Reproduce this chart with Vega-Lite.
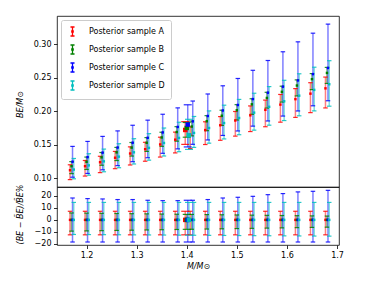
{
 "$schema": "https://vega.github.io/schema/vega-lite/v6.json",
 "padding": {"left": 15, "top": 15, "right": 0, "bottom": 0},
 "spacing": 0,
 "bounds": "flush",
 "config": {
  "font": "DejaVu Sans",
  "view": {"stroke": "#000000", "strokeWidth": 0.8},
  "axis": {"labelFont": "DejaVu Sans", "labelFontSize": 8, "labelColor": "#000000", "labelOverlap": false, "tickColor": "#000000", "tickWidth": 0.8, "tickSize": 3.5, "labelPadding": 2.5, "domain": false, "grid": false, "titleFont": "DejaVu Sans", "titleFontSize": 8, "titleFontWeight": "normal", "titleColor": "#000000"}
 },
 "datasets": {
  "d": [
   {"s":"A","M":1.167,"be":0.1120,"lo":0.0980,"hi":0.1201,"plo":-12.5,"phi":7.2,"big":0},
   {"s":"A","M":1.197,"be":0.1180,"lo":0.1033,"hi":0.1265,"plo":-12.5,"phi":7.2,"big":0},
   {"s":"A","M":1.227,"be":0.1239,"lo":0.1084,"hi":0.1328,"plo":-12.5,"phi":7.2,"big":0},
   {"s":"A","M":1.257,"be":0.1306,"lo":0.1143,"hi":0.1400,"plo":-12.5,"phi":7.2,"big":0},
   {"s":"A","M":1.287,"be":0.1369,"lo":0.1198,"hi":0.1468,"plo":-12.5,"phi":7.2,"big":0},
   {"s":"A","M":1.317,"be":0.1433,"lo":0.1254,"hi":0.1536,"plo":-12.5,"phi":7.2,"big":0},
   {"s":"A","M":1.347,"be":0.1504,"lo":0.1316,"hi":0.1612,"plo":-12.5,"phi":7.2,"big":0},
   {"s":"A","M":1.377,"be":0.1575,"lo":0.1378,"hi":0.1688,"plo":-12.5,"phi":7.2,"big":0},
   {"s":"A","M":1.407,"be":0.1648,"lo":0.1442,"hi":0.1767,"plo":-12.5,"phi":7.2,"big":0},
   {"s":"A","M":1.437,"be":0.1718,"lo":0.1503,"hi":0.1842,"plo":-12.5,"phi":7.2,"big":0},
   {"s":"A","M":1.467,"be":0.1790,"lo":0.1566,"hi":0.1919,"plo":-12.5,"phi":7.2,"big":0},
   {"s":"A","M":1.497,"be":0.1861,"lo":0.1628,"hi":0.1995,"plo":-12.5,"phi":7.2,"big":0},
   {"s":"A","M":1.527,"be":0.1938,"lo":0.1696,"hi":0.2078,"plo":-12.5,"phi":7.2,"big":0},
   {"s":"A","M":1.557,"be":0.2020,"lo":0.1768,"hi":0.2165,"plo":-12.5,"phi":7.2,"big":0},
   {"s":"A","M":1.587,"be":0.2098,"lo":0.1836,"hi":0.2249,"plo":-12.5,"phi":7.2,"big":0},
   {"s":"A","M":1.617,"be":0.2179,"lo":0.1907,"hi":0.2336,"plo":-12.5,"phi":7.2,"big":0},
   {"s":"A","M":1.647,"be":0.2261,"lo":0.1978,"hi":0.2424,"plo":-12.5,"phi":7.2,"big":0},
   {"s":"A","M":1.677,"be":0.2340,"lo":0.2048,"hi":0.2508,"plo":-12.5,"phi":7.2,"big":0},
   {"s":"B","M":1.170,"be":0.1180,"lo":0.1069,"hi":0.1248,"plo":-9.4,"phi":5.8,"big":0},
   {"s":"B","M":1.200,"be":0.1246,"lo":0.1131,"hi":0.1316,"plo":-9.21,"phi":5.65,"big":0},
   {"s":"B","M":1.230,"be":0.1312,"lo":0.1194,"hi":0.1384,"plo":-9.01,"phi":5.49,"big":0},
   {"s":"B","M":1.260,"be":0.1386,"lo":0.1264,"hi":0.1460,"plo":-8.82,"phi":5.34,"big":0},
   {"s":"B","M":1.290,"be":0.1457,"lo":0.1331,"hi":0.1533,"plo":-8.62,"phi":5.19,"big":0},
   {"s":"B","M":1.320,"be":0.1529,"lo":0.1400,"hi":0.1606,"plo":-8.43,"phi":5.04,"big":0},
   {"s":"B","M":1.350,"be":0.1608,"lo":0.1476,"hi":0.1686,"plo":-8.24,"phi":4.88,"big":0},
   {"s":"B","M":1.380,"be":0.1689,"lo":0.1553,"hi":0.1769,"plo":-8.04,"phi":4.73,"big":0},
   {"s":"B","M":1.410,"be":0.1771,"lo":0.1632,"hi":0.1852,"plo":-7.85,"phi":4.58,"big":0},
   {"s":"B","M":1.440,"be":0.1851,"lo":0.1709,"hi":0.1933,"plo":-7.65,"phi":4.42,"big":0},
   {"s":"B","M":1.470,"be":0.1932,"lo":0.1788,"hi":0.2014,"plo":-7.46,"phi":4.27,"big":0},
   {"s":"B","M":1.500,"be":0.2014,"lo":0.1868,"hi":0.2097,"plo":-7.26,"phi":4.12,"big":0},
   {"s":"B","M":1.530,"be":0.2102,"lo":0.1953,"hi":0.2185,"plo":-7.07,"phi":3.96,"big":0},
   {"s":"B","M":1.560,"be":0.2197,"lo":0.2046,"hi":0.2281,"plo":-6.88,"phi":3.81,"big":0},
   {"s":"B","M":1.590,"be":0.2288,"lo":0.2135,"hi":0.2372,"plo":-6.68,"phi":3.66,"big":0},
   {"s":"B","M":1.620,"be":0.2382,"lo":0.2227,"hi":0.2466,"plo":-6.49,"phi":3.51,"big":0},
   {"s":"B","M":1.650,"be":0.2477,"lo":0.2321,"hi":0.2560,"plo":-6.29,"phi":3.35,"big":0},
   {"s":"B","M":1.680,"be":0.2570,"lo":0.2413,"hi":0.2652,"plo":-6.1,"phi":3.2,"big":0},
   {"s":"C","M":1.172,"be":0.1247,"lo":0.1016,"hi":0.1475,"plo":-18.5,"phi":18.3,"big":0},
   {"s":"C","M":1.202,"be":0.1315,"lo":0.1072,"hi":0.1549,"plo":-18.5,"phi":17.8,"big":0},
   {"s":"C","M":1.232,"be":0.1382,"lo":0.1126,"hi":0.1624,"plo":-18.5,"phi":17.5,"big":0},
   {"s":"C","M":1.262,"be":0.1458,"lo":0.1188,"hi":0.1706,"plo":-18.5,"phi":17.0,"big":0},
   {"s":"C","M":1.292,"be":0.1530,"lo":0.1247,"hi":0.1790,"plo":-18.5,"phi":17.0,"big":0},
   {"s":"C","M":1.322,"be":0.1603,"lo":0.1306,"hi":0.1866,"plo":-18.5,"phi":16.4,"big":0},
   {"s":"C","M":1.352,"be":0.1683,"lo":0.1372,"hi":0.1954,"plo":-18.5,"phi":16.1,"big":0},
   {"s":"C","M":1.382,"be":0.1765,"lo":0.1438,"hi":0.2049,"plo":-18.5,"phi":16.1,"big":0},
   {"s":"C","M":1.412,"be":0.1848,"lo":0.1506,"hi":0.2151,"plo":-18.5,"phi":16.4,"big":0},
   {"s":"C","M":1.442,"be":0.1928,"lo":0.1571,"hi":0.2256,"plo":-18.5,"phi":17.0,"big":0},
   {"s":"C","M":1.472,"be":0.2010,"lo":0.1638,"hi":0.2378,"plo":-18.5,"phi":18.3,"big":0},
   {"s":"C","M":1.502,"be":0.2092,"lo":0.1705,"hi":0.2487,"plo":-18.5,"phi":18.9,"big":0},
   {"s":"C","M":1.532,"be":0.2180,"lo":0.1777,"hi":0.2609,"plo":-18.5,"phi":19.7,"big":0},
   {"s":"C","M":1.562,"be":0.2275,"lo":0.1854,"hi":0.2755,"plo":-18.5,"phi":21.1,"big":0},
   {"s":"C","M":1.592,"be":0.2365,"lo":0.1927,"hi":0.2885,"plo":-18.5,"phi":22.0,"big":0},
   {"s":"C","M":1.622,"be":0.2458,"lo":0.2003,"hi":0.3033,"plo":-18.5,"phi":23.4,"big":0},
   {"s":"C","M":1.652,"be":0.2552,"lo":0.2080,"hi":0.3162,"plo":-18.5,"phi":23.9,"big":0},
   {"s":"C","M":1.682,"be":0.2644,"lo":0.2155,"hi":0.3297,"plo":-18.5,"phi":24.7,"big":0},
   {"s":"D","M":1.1745,"be":0.1130,"lo":0.0992,"hi":0.1295,"plo":-12.2,"phi":14.6,"big":0},
   {"s":"D","M":1.2045,"be":0.1192,"lo":0.1046,"hi":0.1366,"plo":-12.28,"phi":14.6,"big":0},
   {"s":"D","M":1.2345,"be":0.1252,"lo":0.1097,"hi":0.1435,"plo":-12.36,"phi":14.6,"big":0},
   {"s":"D","M":1.2645,"be":0.1322,"lo":0.1157,"hi":0.1515,"plo":-12.45,"phi":14.6,"big":0},
   {"s":"D","M":1.2945,"be":0.1387,"lo":0.1213,"hi":0.1590,"plo":-12.53,"phi":14.6,"big":0},
   {"s":"D","M":1.3245,"be":0.1453,"lo":0.1270,"hi":0.1665,"plo":-12.61,"phi":14.6,"big":0},
   {"s":"D","M":1.3545,"be":0.1526,"lo":0.1332,"hi":0.1749,"plo":-12.69,"phi":14.6,"big":0},
   {"s":"D","M":1.3845,"be":0.1601,"lo":0.1396,"hi":0.1835,"plo":-12.78,"phi":14.6,"big":0},
   {"s":"D","M":1.4145,"be":0.1676,"lo":0.1460,"hi":0.1921,"plo":-12.86,"phi":14.6,"big":0},
   {"s":"D","M":1.4445,"be":0.1749,"lo":0.1523,"hi":0.2004,"plo":-12.94,"phi":14.6,"big":0},
   {"s":"D","M":1.4745,"be":0.1823,"lo":0.1586,"hi":0.2089,"plo":-13.02,"phi":14.6,"big":0},
   {"s":"D","M":1.5045,"be":0.1898,"lo":0.1649,"hi":0.2175,"plo":-13.11,"phi":14.6,"big":0},
   {"s":"D","M":1.5345,"be":0.1978,"lo":0.1717,"hi":0.2267,"plo":-13.19,"phi":14.6,"big":0},
   {"s":"D","M":1.5645,"be":0.2065,"lo":0.1791,"hi":0.2366,"plo":-13.27,"phi":14.6,"big":0},
   {"s":"D","M":1.5945,"be":0.2147,"lo":0.1860,"hi":0.2460,"plo":-13.35,"phi":14.6,"big":0},
   {"s":"D","M":1.6245,"be":0.2231,"lo":0.1931,"hi":0.2557,"plo":-13.44,"phi":14.6,"big":0},
   {"s":"D","M":1.6545,"be":0.2317,"lo":0.2004,"hi":0.2655,"plo":-13.52,"phi":14.6,"big":0},
   {"s":"D","M":1.6845,"be":0.2401,"lo":0.2074,"hi":0.2752,"plo":-13.6,"phi":14.6,"big":0},
   {"s":"A","M":1.397,"be":0.1720,"lo":0.1505,"hi":0.1844,"plo":-12.5,"phi":7.2,"big":1},
   {"s":"B","M":1.400,"be":0.1750,"lo":0.1612,"hi":0.1831,"plo":-7.9,"phi":4.6,"big":1},
   {"s":"C","M":1.402,"be":0.1800,"lo":0.1467,"hi":0.2095,"plo":-18.5,"phi":16.4,"big":1},
   {"s":"D","M":1.4045,"be":0.1640,"lo":0.1430,"hi":0.1879,"plo":-12.8,"phi":14.6,"big":1}
  ]
 },
 "resolve": {"legend": {"color": "independent"}},
 "vconcat": [
  {
   "width": 282,
   "height": 171,
   "data": {"name": "d"},
   "encoding": {
    "x": {"field": "M", "type": "quantitative", "scale": {"domain": [1.141, 1.704], "nice": false, "zero": false}, "axis": null},
    "color": {"field": "s", "type": "nominal", "scale": {"domain": ["A", "B", "C", "D"], "range": ["#ff0000", "#008000", "#0000ff", "#00bfbf"]},
     "legend": {"title": null, "orient": "top-left", "offset": 4, "labelExpr": "'Posterior sample ' + datum.label", "symbolType": "M0,-1L0,1M-0.45,-1L0.45,-1M-0.45,1L0.45,1M-0.15,-0.15L0.15,-0.15L0.15,0.15L-0.15,0.15Z", "symbolSize": 81, "symbolStrokeWidth": 1.3, "symbolOpacity": 1, "padding": 6, "labelOffset": 11, "rowPadding": 3, "strokeColor": "#cccccc", "fillColor": "#ffffff", "cornerRadius": 2, "labelFontSize": 8, "labelFont": "DejaVu Sans", "labelColor": "#000000"}}
   },
   "layer": [
    {"mark": {"type": "rule", "strokeWidth": 1.5, "opacity": 0.5},
     "encoding": {
      "y": {"field": "lo", "type": "quantitative", "scale": {"domain": [0.087, 0.3418], "nice": false, "zero": false},
       "axis": {"values": [0.1, 0.15, 0.2, 0.25, 0.3], "tickCount": 10, "format": ".2f", "title": "BE/M⊙", "titleFontStyle": "italic", "titleX": -33, "titleY": 88, "labelOverlap": false}},
      "y2": {"field": "hi"}}},
    {"mark": {"type": "tick", "orient": "horizontal", "thickness": 1.2, "opacity": 0.85},
     "encoding": {"y": {"field": "lo", "type": "quantitative"}, "size": {"condition": {"test": "datum.big == 1", "value": 8}, "value": 4.5}}},
    {"mark": {"type": "tick", "orient": "horizontal", "thickness": 1.2, "opacity": 0.85},
     "encoding": {"y": {"field": "hi", "type": "quantitative"}, "size": {"condition": {"test": "datum.big == 1", "value": 8}, "value": 4.5}}},
    {"mark": {"type": "point", "shape": "square", "filled": true, "opacity": 1},
     "encoding": {"y": {"field": "be", "type": "quantitative"}, "size": {"condition": {"test": "datum.big == 1", "value": 20}, "value": 6}}}
   ]
  },
  {
   "width": 282,
   "height": 58,
   "data": {"name": "d"},
   "encoding": {
    "x": {"field": "M", "type": "quantitative", "scale": {"domain": [1.141, 1.704], "nice": false, "zero": false},
     "axis": {"values": [1.2, 1.3, 1.4, 1.5, 1.6, 1.7], "tickCount": 10, "format": ".1f", "title": "M/M⊙", "titleFontStyle": "italic", "titlePadding": 3, "labelOverlap": false}},
    "color": {"field": "s", "type": "nominal", "scale": {"domain": ["A", "B", "C", "D"], "range": ["#ff0000", "#008000", "#0000ff", "#00bfbf"]}, "legend": null}
   },
   "layer": [
    {"mark": {"type": "rule", "strokeWidth": 1.5, "opacity": 0.5},
     "encoding": {
      "y": {"field": "plo", "type": "quantitative", "scale": {"domain": [-21, 27.5], "nice": false, "zero": false},
       "axis": {"values": [-20, -10, 0, 10, 20], "tickCount": 10, "title": "(BE − B̃E)/B̃E%", "titleFontStyle": "italic", "titleX": -33, "titleY": 27, "labelOverlap": false, "labelFlush": false}},
      "y2": {"field": "phi"}}},
    {"mark": {"type": "tick", "orient": "horizontal", "thickness": 1.2, "opacity": 0.85},
     "encoding": {"y": {"field": "plo", "type": "quantitative"}, "size": {"condition": {"test": "datum.big == 1", "value": 8}, "value": 4.5}}},
    {"mark": {"type": "tick", "orient": "horizontal", "thickness": 1.2, "opacity": 0.85},
     "encoding": {"y": {"field": "phi", "type": "quantitative"}, "size": {"condition": {"test": "datum.big == 1", "value": 8}, "value": 4.5}}},
    {"mark": {"type": "point", "shape": "square", "filled": true, "opacity": 1},
     "encoding": {"y": {"datum": 0, "type": "quantitative"}, "size": {"condition": {"test": "datum.big == 1", "value": 20}, "value": 6}}}
   ]
  }
 ]
}
